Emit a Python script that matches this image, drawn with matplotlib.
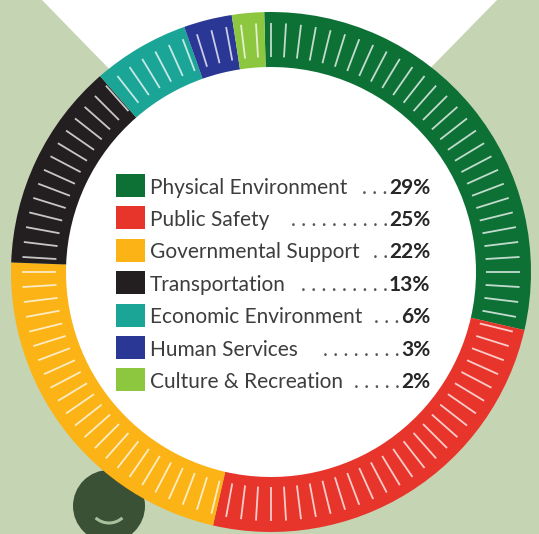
import numpy as np
import matplotlib
matplotlib.use("Agg")
import matplotlib.pyplot as plt
from matplotlib import font_manager
from matplotlib.patches import Circle, Polygon, Rectangle, Arc
from matplotlib.collections import LineCollection

# data
categories = ["Physical Environment", "Public Safety", "Governmental Support",
              "Transportation", "Economic Environment", "Human Services",
              "Culture & Recreation"]
shares = [29, 25, 22, 13, 6, 3, 2]
leaders = [". . .", ". . . . . . . . . .", ". .", ". . . . . . . . .",
           ". . .", ". . . . . . . .", ". . . . ."]
colors = ["#0d7136", "#e8352c", "#fbb315", "#231f20", "#1aa597", "#2a3795", "#8dc63f"]

W, H = 539, 534
bg = "#c5d4b3"

names = {f.name for f in font_manager.fontManager.ttflist}
font = next((f for f in ["Liberation Sans Narrow", "Lato", "Roboto", "Open Sans"] if f in names),
            "DejaVu Sans")

fig = plt.figure(figsize=(W / 100, H / 100), dpi=100)
fig.patch.set_facecolor(bg)
ax = fig.add_axes([0, 0, 1, 1])
ax.set_facecolor(bg)

cx, cy = 271, H - 272
R, ring = 260, 55

# white V shape behind the ring
ax.add_patch(Polygon([(42, H), (497, H), (269, H - 233)], closed=True,
                     facecolor="white", edgecolor="none", zorder=1))

# dark circle with smile, bottom left
ax.add_patch(Circle((109, H - 506), 36, facecolor="#3b5135", edgecolor="none", zorder=2))
ax.add_patch(Arc((109, H - 503), 40, 40, theta1=228, theta2=312,
                 color="#a9c09c", lw=2.2, zorder=3))

# white center
ax.add_patch(Circle((cx, cy), R - ring + 2, facecolor="white", edgecolor="none", zorder=3))

wedges, _ = ax.pie(shares, colors=colors, startangle=91.5, counterclock=False,
                   center=(cx, cy), radius=R,
                   wedgeprops=dict(width=ring, edgecolor="none", linewidth=0))
for w in wedges:
    w.set_zorder(4)

# tick marks inside the ring
n = 104
ang = np.deg2rad(90 - np.arange(n) * 360 / n)
r0, r1 = R - ring + 10, R - 11
segs = [[(cx + r0 * np.cos(a), cy + r0 * np.sin(a)),
         (cx + r1 * np.cos(a), cy + r1 * np.sin(a))] for a in ang]
ax.add_collection(LineCollection(segs, colors="white", alpha=0.75, linewidths=1.3, zorder=5))

ax.set_xlim(0, W)
ax.set_ylim(0, H)
ax.set_aspect("auto")
ax.axis("off")

# fit font size to the label width in the reference
renderer = fig.canvas.get_renderer()
probe = ax.text(0, 0, categories[0], fontsize=16, family=font)
wpx = probe.get_window_extent(renderer).width
probe.remove()
fs = 16 * 198 / wpx

row0, step = 185.5, 32.4
pct_texts = []
for i, (cat, v, c) in enumerate(zip(categories, shares, colors)):
    yc = H - (row0 + i * step)
    ax.add_patch(Rectangle((116, yc - 11.5), 29, 23, facecolor=c, edgecolor="none", zorder=6))
    ax.text(150, yc - 8, cat, fontsize=fs, family=font, color="#3d3d3d",
            va="baseline", ha="left", zorder=6)
    pct_texts.append(ax.text(430, yc - 8, f"{v}%", fontsize=fs, family=font,
                             fontweight="bold", color="#262626",
                             va="baseline", ha="right", zorder=6))

fig.canvas.draw()
inv = ax.transData.inverted()
for t, lead in zip(pct_texts, leaders):
    bb = t.get_window_extent(renderer)
    x0 = inv.transform((bb.x0, bb.y0))[0]
    ax.text(x0 - 1, t.get_position()[1], lead, fontsize=fs, family=font,
            color="#555555", va="baseline", ha="right", zorder=6)

fig.savefig("out.png", dpi=100, facecolor=bg)
